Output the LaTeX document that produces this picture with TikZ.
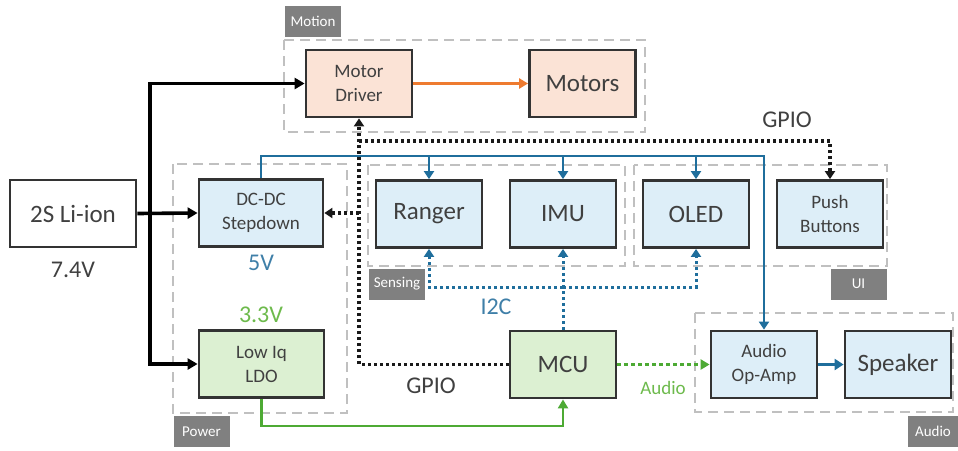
\documentclass[tikz,border=0pt]{standalone}
\usepackage{fontspec}
\setmainfont{Carlito}
\usetikzlibrary{arrows.meta}
\definecolor{txt}{HTML}{404040}
\definecolor{peach}{HTML}{FBE3D6}
\definecolor{skyfill}{HTML}{DDEEF8}
\definecolor{leaf}{HTML}{DCF0D2}
\definecolor{railblue}{HTML}{1F6E9C}
\definecolor{railgreen}{HTML}{4DAA34}
\definecolor{volt5}{HTML}{3F7FA8}
\definecolor{volt33}{HTML}{6DBA4C}
\definecolor{orng}{HTML}{EE7B30}
\definecolor{grpgray}{HTML}{C0C0C0}
\definecolor{tabgray}{HTML}{808080}
\definecolor{edge}{HTML}{333333}

\begin{document}
\begin{tikzpicture}[x=1pt,y=-1pt,
  block/.style={draw=edge, line width=2.8pt, minimum width=106pt,
    minimum height=67pt, inner sep=0pt, text=txt, align=center,
    font=\fontsize{19}{24}\selectfont},
  bigtext/.style={font=\fontsize{25}{28}\selectfont},
  label5/.style={text=volt5, font=\fontsize{24}{28}\selectfont},
  labeltxt/.style={text=txt, font=\fontsize{24}{28}\selectfont},
  group/.style={draw=grpgray, line width=1.8pt, dash pattern=on 10pt off 6pt},
  tab/.style={fill=tabgray, text=white, minimum width=56pt, minimum height=31pt,
    inner sep=0pt, font=\fontsize{15}{17}\selectfont},
  power/.style={draw=black, line width=3.6pt, -{Triangle[length=10pt,width=11pt]}},
  bluerail/.style={draw=railblue, line width=2.8pt},
  bluetip/.style={-{Triangle[length=8pt,width=10pt]}},
  gpio/.style={draw=black!90, line width=3.4pt, dash pattern=on 3pt off 3pt},
  gpiotip/.style={-{Triangle[length=8pt,width=10pt]}},
  i2c/.style={draw=railblue, line width=3pt, dash pattern=on 3pt off 3pt,
    -{Triangle[length=8pt,width=10pt]}},
  audiosig/.style={draw=railgreen, line width=3.2pt, dash pattern=on 4pt off 3pt,
    -{Triangle[length=9pt,width=10pt]}},
  greenrail/.style={draw=railgreen, line width=2.8pt, -{Triangle[length=9pt,width=10pt]}}
]
\useasboundingbox (0,0) rectangle (958,450);

% functional groups
\draw[group] (284,40) rectangle (645,132);
\draw[group] (173,164) rectangle (347,413);
\draw[group] (368,165) rectangle (625,266);
\draw[group] (634,165) rectangle (887,266);
\draw[group] (695,313) rectangle (953,412);

\node[tab] (tmotion) at (313,21) {Motion};
\node[tab] (tpower) at (201.5,431.5) {Power};
\node[tab] (tsensing) at (397,284) {Sensing};
\node[tab] (tui) at (858.5,284) {UI};
\node[tab, minimum width=50pt] (taudio) at (933,431.5) {Audio};

% blocks
\node[block, minimum width=126pt, fill=white, bigtext] (li) at (73,213.5) {2S Li-ion};
\node[block, fill=peach] (md) at (359,83.5) {Motor\\Driver};
\node[block, fill=peach, bigtext] (mot) at (582.5,83.5) {Motors};
\node[block, minimum width=124pt, fill=skyfill] (dc) at (261,213) {DC-DC\\Stepdown};
\node[block, minimum width=125pt, fill=leaf] (ldo) at (261.5,364) {Low Iq\\LDO};
\node[block, fill=skyfill, bigtext] (ranger) at (429,214) {Ranger};
\node[block, fill=skyfill, bigtext] (imu) at (563,214) {IMU};
\node[block, fill=skyfill, bigtext] (oled) at (696,214) {OLED};
\node[block, fill=skyfill] (pb) at (830,214) {Push\\Buttons};
\node[block, fill=leaf, bigtext] (mcu) at (563,364.5) {MCU};
\node[block, fill=skyfill] (amp) at (764,364.5) {Audio\\Op-Amp};
\node[block, fill=skyfill, bigtext] (spk) at (898,364.5) {Speaker};

% labels
\node[labeltxt] (v74) at (73,270) {7.4V};
\node[label5] (v5) at (261,263) {5V};
\node[text=volt33, font=\fontsize{24}{28}\selectfont] (v33) at (261,315) {3.3V};
\node[labeltxt] (gpioA) at (787,120) {GPIO};
\node[labeltxt] (gpioB) at (431,386) {GPIO};
\node[label5] (i2clab) at (496,307) {I2C};
\node[text=volt33, font=\fontsize{19}{22}\selectfont] (audlab) at (663,388) {Audio};

% junction points
\coordinate (batj) at (150,213.5);
\coordinate (busend) at (764,156);
\coordinate (gtop) at (359,141);
\coordinate (i2cj) at (563,287);
\coordinate (gturn) at (563,426);

% battery feed
\draw[power] (li.east) -- (dc.west);
\draw[power] (batj) |- (md.west);
\draw[power] (batj) |- (ldo.west);

% motor drive
\draw[draw=orng, line width=2.8pt, -{Triangle[length=9pt,width=10pt]}] (md.east) -- (mot.west);

% 5V rail
\draw[bluerail, bluetip] (dc.north) |- (busend) -- (amp.north);
\draw[bluerail, bluetip] (ranger.north |- busend) -- (ranger.north);
\draw[bluerail, bluetip] (imu.north |- busend) -- (imu.north);
\draw[bluerail, bluetip] (oled.north |- busend) -- (oled.north);

% GPIO lines
\draw[gpio, gpiotip] (mcu.west) -| (md.south);
\draw[gpio, gpiotip] (md.south |- dc.east) -- (dc.east);
\draw[gpio, gpiotip] (gtop) -| (pb.north);

% I2C bus
\draw[i2c] (mcu.north) -- (imu.south);
\draw[i2c] (i2cj) -| (ranger.south);
\draw[i2c] (i2cj) -| (oled.south);

% audio path
\draw[audiosig] (mcu.east) -- (amp.west);
\draw[bluerail, line width=3.4pt, -{Triangle[length=9pt,width=11pt]}] (amp.east) -- (spk.west);

% 3.3V rail
\draw[greenrail] (ldo.south) |- (gturn) -- (mcu.south);
\end{tikzpicture}
\end{document}
